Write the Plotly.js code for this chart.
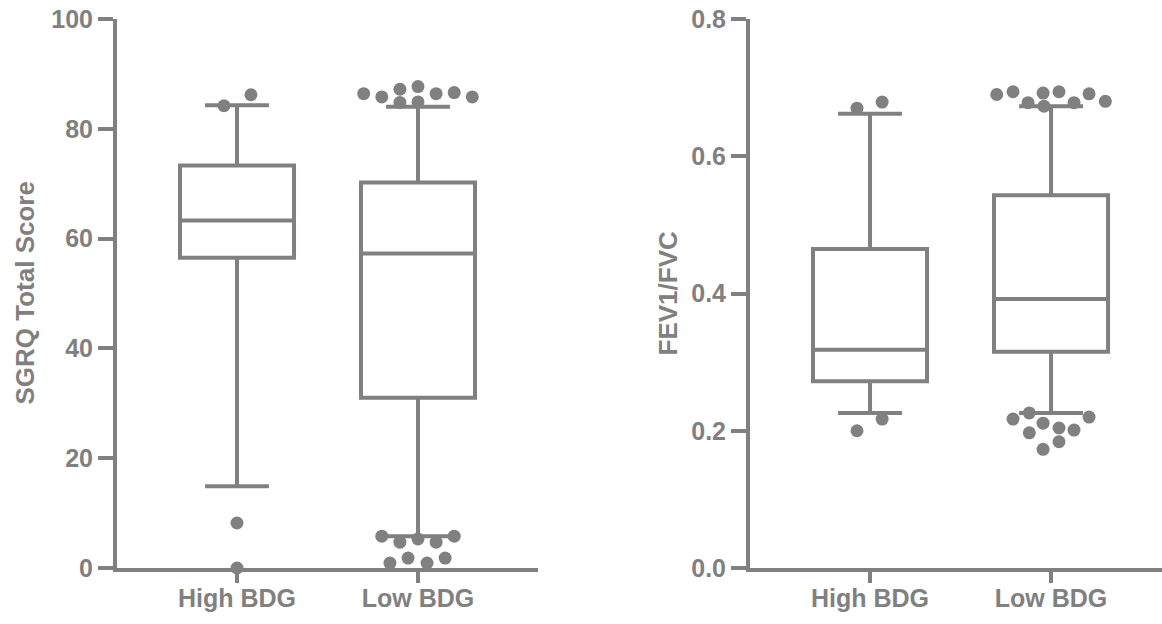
<!DOCTYPE html>
<html>
<head>
<meta charset="utf-8">
<script src="https://cdn.plot.ly/plotly-3.0.1.min.js"></script>
<style>html,body{margin:0;padding:0;background:#fff;}#chart{width:1162px;height:624px;}</style>
</head>
<body>
<div id="chart"></div>
<script>
// ---- data ----
const categories = ['High BDG', 'Low BDG'];

// SGRQ Total Score box statistics
const sgrqLowerWhisker = [14.9, 5.8];
const sgrqQ1 = [56.5, 31.0];
const sgrqMedian = [63.3, 57.3];
const sgrqQ3 = [73.3, 70.2];
const sgrqUpperWhisker = [84.3, 84.0];
// SGRQ outliers: group index, horizontal jitter (in category units), value
const sgrqOutGroup = [0, 0, 0, 0, 1, 1, 1, 1, 1, 1, 1, 1, 1, 1, 1, 1, 1, 1, 1, 1, 1, 1];
const sgrqOutJitter = [-0.072, 0.077, 0, 0, -0.30, -0.20, -0.10, -0.10, 0, 0, 0.10, 0.20, 0.30, -0.20, -0.10, 0, 0.10, 0.20, -0.155, -0.055, 0.05, 0.15];
const sgrqOutValue = [84.2, 86.2, 8.2, 0, 86.4, 85.8, 87.2, 84.8, 87.7, 84.9, 86.4, 86.6, 85.8, 5.8, 4.7, 5.3, 4.7, 5.8, 0.9, 1.8, 0.9, 1.8];

// FEV1/FVC box statistics
const fevLowerWhisker = [0.226, 0.226];
const fevQ1 = [0.272, 0.315];
const fevMedian = [0.318, 0.392];
const fevQ3 = [0.465, 0.543];
const fevUpperWhisker = [0.662, 0.673];
const fevOutGroup = [0, 0, 0, 0, 1, 1, 1, 1, 1, 1, 1, 1, 1, 1, 1, 1, 1, 1, 1, 1, 1, 1];
const fevOutJitter = [-0.072, 0.067, -0.072, 0.067, -0.30, -0.21, -0.127, -0.044, -0.039, 0.044, 0.127, 0.21, 0.30, -0.21, -0.12, -0.044, -0.12, 0.044, 0.127, 0.21, -0.044, 0.044];
const fevOutValue = [0.670, 0.679, 0.200, 0.217, 0.690, 0.694, 0.678, 0.692, 0.673, 0.694, 0.678, 0.691, 0.680, 0.217, 0.226, 0.211, 0.197, 0.204, 0.201, 0.220, 0.173, 0.184];

// ---- styling ----
const GRAY = '#808080';
const FONT = 'Liberation Sans, Arial, Helvetica, sans-serif';
const W = 1162, H = 624, TOP = 19, BOTTOM = 56;

function boxTraces(lw, q1, med, q3, uw, xa, ya) {
  return categories.map((c, i) => ({
    type: 'box', x: [i], q1: [q1[i]], median: [med[i]], q3: [q3[i]],
    lowerfence: [lw[i]], upperfence: [uw[i]],
    boxpoints: false, width: 0.63, whiskerwidth: 0.56,
    line: {color: GRAY, width: 4}, fillcolor: '#ffffff',
    xaxis: xa, yaxis: ya, hoverinfo: 'skip', showlegend: false
  }));
}
function outlierTrace(g, j, v, xa, ya) {
  return {
    type: 'scatter', mode: 'markers',
    x: g.map((gi, k) => gi + j[k]), y: v,
    marker: {color: GRAY, size: 13, line: {width: 0}},
    cliponaxis: false, xaxis: xa, yaxis: ya, hoverinfo: 'skip', showlegend: false
  };
}

const data = [
  ...boxTraces(sgrqLowerWhisker, sgrqQ1, sgrqMedian, sgrqQ3, sgrqUpperWhisker, 'x', 'y'),
  outlierTrace(sgrqOutGroup, sgrqOutJitter, sgrqOutValue, 'x', 'y'),
  ...boxTraces(fevLowerWhisker, fevQ1, fevMedian, fevQ3, fevUpperWhisker, 'x2', 'y2'),
  outlierTrace(fevOutGroup, fevOutJitter, fevOutValue, 'x2', 'y2')
];

const tickFont = {family: FONT, size: 25, color: GRAY, weight: 'bold'};
function xAxis(domain, range, anchor) {
  return {
    domain: domain, range: range, anchor: anchor,
    tickvals: [0, 1], ticktext: categories,
    showline: true, linecolor: GRAY, linewidth: 4,
    ticks: 'outside', ticklen: 11, tickwidth: 4, tickcolor: GRAY,
    ticklabelstandoff: -6,
    showgrid: false, zeroline: false, tickfont: tickFont, fixedrange: true
  };
}
function yAxis(range, dtick, fmt, anchor) {
  return {
    range: range, dtick: dtick, tickformat: fmt, anchor: anchor,
    showline: true, linecolor: GRAY, linewidth: 4,
    ticks: 'outside', ticklen: 15, tickwidth: 4, tickcolor: GRAY,
    showgrid: false, zeroline: false, tickfont: tickFont, fixedrange: true
  };
}

const layout = {
  width: W, height: H,
  margin: {l: 0, r: 0, t: TOP, b: BOTTOM},
  paper_bgcolor: '#ffffff', plot_bgcolor: 'rgba(0,0,0,0)',
  showlegend: false,
  xaxis: xAxis([117 / W, 538 / W], [-0.663, 1.663], 'y'),
  yaxis: yAxis([0, 100], 20, 'd', 'x'),
  xaxis2: xAxis([750 / W, 1], [-0.663, 1.613], 'y2'),
  yaxis2: yAxis([0, 0.8], 0.2, '.1f', 'x2'),
  annotations: [
    {text: 'SGRQ Total Score', xref: 'paper', yref: 'paper', x: 24 / W, y: 0.5,
     xanchor: 'center', yanchor: 'middle', textangle: -90, showarrow: false,
     font: {family: FONT, size: 26, color: GRAY, weight: 'bold'}},
    {text: 'FEV1/FVC', xref: 'paper', yref: 'paper', x: 667 / W, y: 0.5,
     xanchor: 'center', yanchor: 'middle', textangle: -90, showarrow: false,
     font: {family: FONT, size: 26, color: GRAY, weight: 'bold'}}
  ]
};

Plotly.newPlot('chart', data, layout, {staticPlot: true, displayModeBar: false});
</script>
</body>
</html>
